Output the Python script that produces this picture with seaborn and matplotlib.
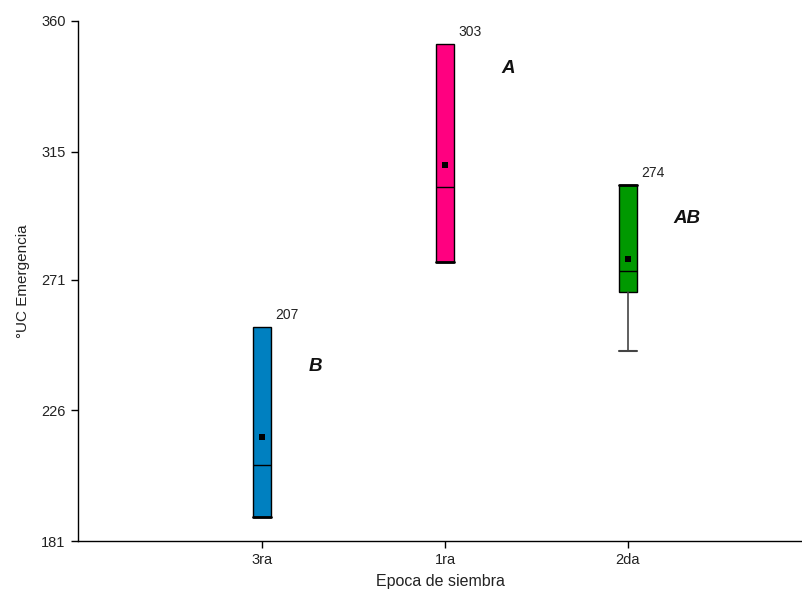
import matplotlib
matplotlib.use("Agg")
import matplotlib.pyplot as plt
import seaborn as sns
import pandas as pd

# Sowing dates and box statistics for thermal time to emergence (°UC)
epocas = ["3ra", "1ra", "2da"]
q1 = [189.2, 277.1, 266.8]
medianas = [207, 303, 274]
q3 = [254.6, 352.0, 303.5]
bigote_inf = [189.2, 277.1, 246.5]
bigote_sup = [254.6, 352.0, 303.5]
medias = [216.9, 310.5, 278.0]
letras = ["B", "A", "AB"]
colores = ["#0080C0", "#FF0080", "#009900"]
yticks = [181, 226, 271, 315, 360]

sns.set_style("ticks")
plt.rcParams["font.family"] = ["Liberation Sans", "DejaVu Sans"]

fig = plt.figure(figsize=(8.03, 5.90), dpi=100)
ax = fig.add_axes([78 / 803, 1 - 541 / 590, (802 - 78) / 803, (541 - 21) / 590])

pos = list(range(len(epocas)))
stats = [
    dict(label=e, q1=a, med=m, q3=b, whislo=lo, whishi=hi, mean=mu, fliers=[])
    for e, a, m, b, lo, hi, mu in zip(epocas, q1, medianas, q3, bigote_inf, bigote_sup, medias)
]
ancho = 0.1
bp = ax.bxp(
    stats, positions=pos, widths=ancho, patch_artist=True, showmeans=False,
    showfliers=False, manage_ticks=False,
    boxprops=dict(edgecolor="black", linewidth=1.0),
    medianprops=dict(color="black", linewidth=1.0),
    whiskerprops=dict(color="#444444", linewidth=1.2),
    capprops=dict(color="black", linewidth=2.0),
    capwidths=ancho,
)
for patch, c in zip(bp["boxes"], colores):
    patch.set_facecolor(c)

# Caps: a bold bar where the whisker ends on the box edge, a thin grey bar
# where the whisker extends beyond it, none for the open upper ends
for i, cap in enumerate(bp["caps"]):
    k, upper = divmod(i, 2)
    lo_end = bigote_inf[k] < q1[k]
    if upper and epocas[k] != "2da":
        cap.set_visible(False)
    elif not upper and lo_end:
        cap.set_color("#444444")
        cap.set_linewidth(1.5)

# Means as small black squares
df_medias = pd.DataFrame({"pos": pos, "media": medias})
sns.scatterplot(data=df_medias, x="pos", y="media", marker="s", s=20,
                color="black", edgecolor="none", ax=ax, zorder=5)

# Median values written above each box
for p, m, b in zip(pos, medianas, q3):
    ax.annotate(f"{m}", xy=(p + ancho / 2, b), xytext=(4, 5),
                textcoords="offset pixels", ha="left", va="bottom",
                fontsize=10, color="#222222")

# Significance letters
letra_xy = [(0.288, 240.9), (1.343, 343.7), (2.32, 292.1)]
for (lx, ly), t in zip(letra_xy, letras):
    ax.text(lx, ly, t, ha="center", va="center", fontsize=13.5,
            fontweight="bold", fontstyle="italic", color="#111111")

ax.set_xlim(-1.008, 2.952)
ax.set_ylim(181, 360)
ax.set_xticks(pos)
ax.set_xticklabels(epocas)
ax.set_yticks(yticks)
ax.set_yticklabels([str(v) for v in yticks])
ax.tick_params(axis="both", direction="out", length=5, width=1.0,
               labelsize=10.5, colors="black", labelcolor="#222222")
ax.tick_params(axis="y", pad=4)
ax.tick_params(axis="x", pad=3.5)
ax.set_xlabel("Epoca de siembra", fontsize=11.5, color="#222222", labelpad=5)
ax.set_ylabel("°UC Emergencia", fontsize=11, color="#222222", labelpad=8)

sns.despine(ax=ax)
for s in ("left", "bottom"):
    ax.spines[s].set_linewidth(1.0)
    ax.spines[s].set_color("black")

fig.savefig("out.png", dpi=100, facecolor="white")
